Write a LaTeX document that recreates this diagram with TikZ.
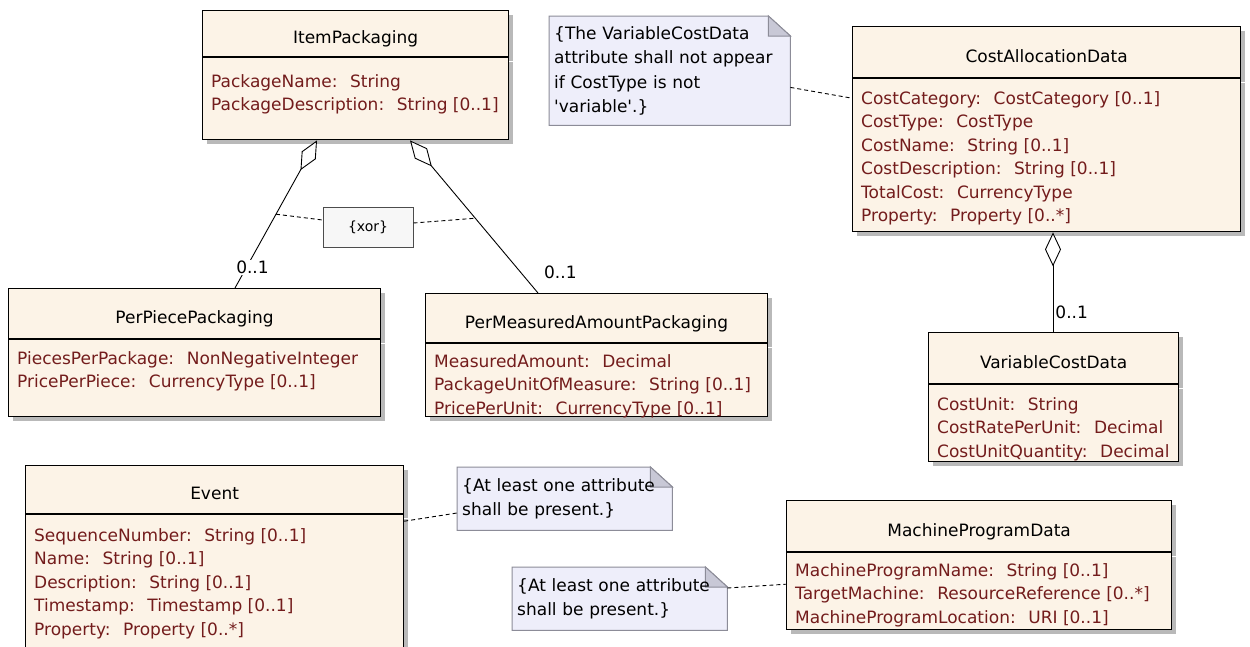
\documentclass[tikz,border=0pt]{standalone}
\usepackage{fontspec}
\setmainfont{DejaVu Sans}
\usetikzlibrary{calc,shadows,arrows.meta,backgrounds}
\definecolor{clsfill}{RGB}{252,243,231}
\definecolor{attrred}{RGB}{115,28,28}
\definecolor{notefill}{RGB}{238,238,250}
\definecolor{noteline}{RGB}{140,140,152}
\definecolor{notefold}{RGB}{200,200,214}
\definecolor{shade}{RGB}{185,185,185}
\newcommand{\umlfont}{\fontsize{17}{23.5}\selectfont}
\newcommand{\notefont}{\fontsize{17}{24.5}\selectfont}
\tikzset{ head/.style = { draw
                        , line width     = 1.2pt
                        , fill           = clsfill
                        , anchor         = north west
                        , inner sep      = 0pt
                        , minimum height = 50pt
                        , text height    = 20pt
                        , text depth     = 0pt
                        , font           = \umlfont
                        , drop shadow    = {shadow xshift=4pt, shadow yshift=-4pt, fill=shade, opacity=1}
                        },
          body/.style = { draw
                        , line width     = 1.2pt
                        , fill           = clsfill
                        , anchor         = north west
                        , inner sep      = 0pt
                        , drop shadow    = {shadow xshift=4pt, shadow yshift=-4pt, fill=shade, opacity=1}
                        },
          attr/.style = { anchor    = north west
                        , align     = left
                        , inner sep = 0pt
                        , text      = attrred
                        , font      = \umlfont
                        },
          note/.style = { anchor     = north west
                        , align      = left
                        , inner xsep = 5pt
                        , inner ysep = 0pt
                        , font       = \notefont
                        },
          noteframe/.style  = { draw = noteline, fill = notefill, line width = 1pt },
          notecorner/.style = { draw = noteline, fill = notefold, line width = 1pt },
          mult/.style   = { font = \umlfont, inner sep = 1pt },
          xorbox/.style = { draw = black!70
                          , fill = black!3
                          , line width     = 1pt
                          , minimum width  = 90pt
                          , minimum height = 40pt
                          , font = \fontsize{14}{16}\selectfont
                          },
          agg/.style  = { {Diamond[fill=white, length=34pt, width=16pt]}-, line width = 0.9pt },
          link/.style = { dashed, dash pattern = on 4pt off 3pt, line width = 0.9pt }
        }

\begin{document}
\begin{tikzpicture}[x=1pt, y=-1pt]
\clip (0,0) rectangle (1250,646);

% ItemPackaging
\node[head, minimum width=306pt, minimum height=46pt] (ip) at (202,10) {ItemPackaging};
\node[body, minimum width=306pt, minimum height=82pt] (ipb) at (ip.south west) {};
\node[attr] (ipa) at ($(ipb.north west)+(9,17)$) {PackageName:~ String\\PackageDescription:~ String [0..1]};

% PerPiecePackaging
\node[head, minimum width=372pt] (ppp) at (8,288) {PerPiecePackaging};
\node[body, minimum width=372pt, minimum height=77pt] (pppb) at (ppp.south west) {};
\node[attr] (pppa) at ($(pppb.north west)+(9,12)$) {PiecesPerPackage:~ NonNegativeInteger\\PricePerPiece:~ CurrencyType [0..1]};

% PerMeasuredAmountPackaging
\node[head, minimum width=342pt, minimum height=49pt] (pma) at (425,293) {PerMeasuredAmountPackaging};
\node[body, minimum width=342pt, minimum height=73pt] (pmab) at (pma.south west) {};
\node[attr] (pmaa) at ($(pmab.north west)+(9,11)$) {MeasuredAmount:~ Decimal\\PackageUnitOfMeasure:~ String [0..1]\\PricePerUnit:~ CurrencyType [0..1]};

% CostAllocationData
\node[head, minimum width=388pt, minimum height=51pt] (cad) at (852,26) {CostAllocationData};
\node[body, minimum width=388pt, minimum height=153pt] (cadb) at (cad.south west) {};
\node[attr] (cada) at ($(cadb.north west)+(9,13)$) {CostCategory:~ CostCategory [0..1]\\CostType:~ CostType\\CostName:~ String [0..1]\\CostDescription:~ String [0..1]\\TotalCost:~ CurrencyType\\Property:~ Property [0..*]};

% VariableCostData
\node[head, minimum width=250pt, minimum height=51pt] (vcd) at (928,332) {VariableCostData};
\node[body, minimum width=250pt, minimum height=77pt] (vcdb) at (vcd.south west) {};
\node[attr] (vcda) at ($(vcdb.north west)+(9,13)$) {CostUnit:~ String\\CostRatePerUnit:~ Decimal\\CostUnitQuantity:~ Decimal};

% Event
\node[head, minimum width=378pt, minimum height=48pt] (ev) at (25,465) {Event};
\node[body, minimum width=378pt, minimum height=200pt] (evb) at (ev.south west) {};
\node[attr] (eva) at ($(evb.north west)+(9,14)$) {SequenceNumber:~ String [0..1]\\Name:~ String [0..1]\\Description:~ String [0..1]\\Timestamp:~ Timestamp [0..1]\\Property:~ Property [0..*]};

% MachineProgramData
\node[head, minimum width=385pt, minimum height=51pt] (mpd) at (786,500) {MachineProgramData};
\node[body, minimum width=385pt, minimum height=77pt] (mpdb) at (mpd.south west) {};
\node[attr] (mpda) at ($(mpdb.north west)+(9,11)$) {MachineProgramName:~ String [0..1]\\TargetMachine:~ ResourceReference [0..*]\\MachineProgramLocation:~ URI [0..1]};

% notes
\node[note, text width=231pt, minimum height=109pt] (n1) at (549,16) {\{The VariableCostData\\attribute shall not appear\\if CostType is not\\\textquotesingle variable\textquotesingle.\}};
\node[note, text width=205pt, minimum height=63pt] (n2) at (457,467) {\{At least one attribute\\shall be present.\}};
\node[note, text width=205pt, minimum height=63pt] (n3) at (512,567) {\{At least one attribute\\shall be present.\}};
\begin{scope}[on background layer]
  \fill[white] (0,0) rectangle (1250,646);
  \foreach \n in {n1,n2,n3} {
    \filldraw[noteframe] (\n.north west) -- ($(\n.north east)+(-22,0)$) -- ($(\n.north east)+(0,20)$)
                         -- (\n.south east) -- (\n.south west) -- cycle;
    \filldraw[notecorner] ($(\n.north east)+(-22,0)$) -- ($(\n.north east)+(-22,20)$) -- ($(\n.north east)+(0,20)$) -- cycle;
  }
\end{scope}

% xor constraint
\node[xorbox] (xor) at (368,227) {\{xor\}};

% aggregations
\draw[agg] ($(ipb.south west)+(115,0)$) -- node[pos=0.5, coordinate] (xl) {}
           node[mult, pos=0.86, fill=white, xshift=6pt] (m1) {0..1} ($(ppp.north west)+(227,0)$);
\draw[agg] ($(ipb.south west)+(208,0)$) -- node[pos=0.51, coordinate] (xr) {}
           node[mult, pos=0.865, anchor=west, xshift=22pt] (m2) {0..1} ($(pma.north west)+(113,0)$);
\draw[agg] ($(cadb.south west)+(201,0)$) -- node[mult, pos=0.8, anchor=west, xshift=1pt] (m3) {0..1}
           ($(vcd.north west)+(125,0)$);

% constraint and note links
\draw[link] (xl) -- ([yshift=7pt]xor.west);
\draw[link] ([yshift=4pt]xor.east) -- (xr);
\draw[link] ($(n1.south east)+(0,-38)$) -- ($(cadb.north west)+(0,20)$);
\draw[link] ($(evb.north east)+(0,7)$) -- ($(n2.north west)+(0,46)$);
\draw[link] ($(n3.north east)+(0,21)$) -- ($(mpdb.north west)+(0,32)$);
\end{tikzpicture}
\end{document}
